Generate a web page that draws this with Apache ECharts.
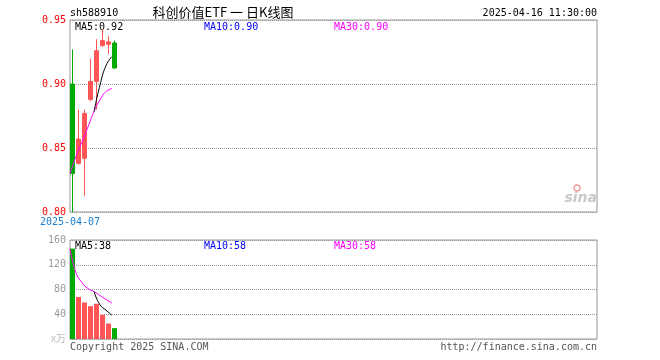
<!DOCTYPE html>
<html><head><meta charset="utf-8">
<script src="https://cdn.jsdelivr.net/npm/echarts@6/dist/echarts.min.js"></script>
<style>html,body{margin:0;padding:0;background:#fff}#c{width:660px;height:360px}</style>
</head><body><div id="c"></div>
<script>
// ---- data ----
const dates   = ['2025-04-07','2025-04-08','2025-04-09','2025-04-10','2025-04-11','2025-04-14','2025-04-15','2025-04-16'];
const opens   = [0.900, 0.838, 0.842, 0.888, 0.902, 0.930, 0.931, 0.932];
const closes  = [0.830, 0.857, 0.877, 0.902, 0.926, 0.934, 0.933, 0.9125];
const lows    = [0.800, 0.837, 0.8125, 0.8865, 0.880, 0.929, 0.9235, 0.912];
const highs   = [0.927, 0.880, 0.880, 0.920, 0.935, 0.943, 0.9375, 0.934];
const volumes = [146, 68, 59, 53, 57, 39, 25, 17.5]; // 万
const priceTicks = [0.80, 0.85, 0.90, 0.95];
const volTicks   = [0, 40, 80, 120, 160];
const symbolCode = 'sh588910';
const titleText  = '科创价值ETF 一 日K线图';
const timeText   = '2025-04-16 11:30:00';

// ---- layout ----
const SLOTS = 88, SLOT_PX = 6;
const L = 70, W = 527;
const MONO = 'DejaVu Sans Mono';
const RED = '#ff5555', GREEN = '#00aa00';
const panels = [{ top: 20, height: 192 }, { top: 240, height: 99 }];

const cats = dates.concat(new Array(SLOTS - dates.length).fill(''));
function ma(vals, n, minCount) {
  return vals.map((_, i) => {
    const c = Math.min(n, i + 1);
    if (c < minCount) return '-';
    let s = 0; for (let k = i - c + 1; k <= i; k++) s += vals[k];
    return s / c;
  });
}
const kData = dates.map((_, i) => [opens[i], closes[i], lows[i], highs[i]]);
const up = dates.map((_, i) => closes[i] >= opens[i]);
// lines: MA5/MA10 drawn only once enough days exist; MA30 drawn as running mean
const pMA5 = ma(closes, 5, 5), pMA10 = ma(closes, 10, 10), pMA30 = ma(closes, 30, 1);
const vMA5 = ma(volumes, 5, 5), vMA10 = ma(volumes, 10, 10), vMA30 = ma(volumes, 30, 1);
// legend values use the running means
const last = a => a[a.length - 1];
const pLeg = [ma(closes, 5, 1), ma(closes, 10, 1), ma(closes, 30, 1)].map(last);
const vLeg = [ma(volumes, 5, 1), ma(volumes, 10, 1), ma(volumes, 30, 1)].map(last);
const step = (t) => Math.round((t[1] - t[0]) * 1e6) / 1e6;

// per panel: grid 0 = border/labels, grid 1 = candles/bars (pixel aligned), grid 2 = MA lines
const grids = [], xAxes = [], yAxes = [];
const dotted = { show: true, lineStyle: { color: '#999', type: [1, 1], width: 1 } };
panels.forEach((p, pi) => {
  const ticks = pi === 0 ? priceTicks : volTicks;
  const defs = [
    { left: L, width: W, show: true, gap: true },
    { left: L - 0.5, width: SLOTS * SLOT_PX, show: false, gap: true },
    { left: L, width: (SLOTS - 1) * SLOT_PX, show: false, gap: false }
  ];
  defs.forEach((d, k) => {
    const gi = grids.length;
    grids.push({ left: d.left, top: p.top, width: d.width, height: p.height, show: d.show, borderColor: '#999', borderWidth: 1 });
    const showDate = pi === 0 && k === 2;
    xAxes.push({ type: 'category', gridIndex: gi, data: cats, boundaryGap: d.gap, position: 'bottom',
      axisLine: { show: false }, axisTick: { show: false }, splitLine: { show: false },
      axisLabel: showDate ? { show: true, interval: (i) => i === 0, color: '#1a7fd0', fontFamily: MONO, fontSize: 10, margin: 5, align: 'center' } : { show: false } });
    const y = { type: 'value', gridIndex: gi, min: ticks[0], max: last(ticks), interval: step(ticks),
      axisLine: { show: false }, axisTick: { show: false }, axisLabel: { show: false }, splitLine: { show: false } };
    if (k === 0) {
      y.splitLine = dotted;
      y.axisLabel = pi === 0
        ? { color: '#ff0000', fontFamily: MONO, fontSize: 10, margin: 4, formatter: v => v.toFixed(2) }
        : { color: '#999', fontFamily: MONO, fontSize: 10, margin: 4,
            formatter: v => v === 0 ? '{u|x万}' : String(v),
            rich: { u: { color: '#bbb', fontSize: 10, fontFamily: 'Noto Sans CJK SC', padding: [0, 0, 2, 0] } } };
    }
    yAxes.push(y);
  });
});

const chart = echarts.init(document.getElementById('c'));
const line = (c, ax, data) => ({ type: 'line', xAxisIndex: ax, yAxisIndex: ax, data, showSymbol: false, symbol: 'none', smooth: true, lineStyle: { width: 1, color: c }, silent: true });
const txt = (x, y, text, fill, extra) => ({ type: 'text', x, y, silent: true, style: Object.assign({ text, fill, font: '10px ' + MONO, verticalAlign: 'middle' }, extra || {}) });

chart.setOption({
  animation: false,
  backgroundColor: '#fff',
  grid: grids, xAxis: xAxes, yAxis: yAxes,
  series: [
    { type: 'candlestick', xAxisIndex: 1, yAxisIndex: 1, data: kData, barWidth: 4,
      itemStyle: { color: RED, color0: GREEN, borderColor: RED, borderColor0: GREEN, borderWidth: 1 } },
    line('#0000ff', 2, pMA10), line('#ff00ff', 2, pMA30), line('#000000', 2, pMA5),
    { type: 'bar', xAxisIndex: 4, yAxisIndex: 4, barWidth: 5,
      data: volumes.map((v, i) => ({ value: v, itemStyle: { color: up[i] ? RED : GREEN } })) },
    line('#0000ff', 5, vMA10), line('#ff00ff', 5, vMA30), line('#000000', 5, vMA5)
  ],
  graphic: [
    txt(L, 13, symbolCode, '#000'),
    { type: 'text', x: 223, y: 12, silent: true, style: { text: titleText, fill: '#000', font: '13px "Noto Sans CJK SC"', align: 'center', verticalAlign: 'middle' } },
    txt(L + W, 13, timeText, '#000', { align: 'right' }),
    txt(L + 5, 27, 'MA5:' + pLeg[0].toFixed(2), '#000'),
    txt(L + 134, 27, 'MA10:' + pLeg[1].toFixed(2), '#0000ff'),
    txt(L + 264, 27, 'MA30:' + pLeg[2].toFixed(2), '#ff00ff'),
    txt(L + 5, 246, 'MA5:' + Math.round(vLeg[0]), '#000'),
    txt(L + 134, 246, 'MA10:' + Math.round(vLeg[1]), '#0000ff'),
    txt(L + 264, 246, 'MA30:' + Math.round(vLeg[2]), '#ff00ff'),
    txt(L, 347, 'Copyright 2025 SINA.COM', '#555'),
    txt(L + W, 347, 'http://finance.sina.com.cn', '#555', { align: 'right' }),
    { type: 'text', x: L + W, y: 198, silent: true, style: { text: 'sina', fill: '#c8c8c8', font: 'italic bold 14px "DejaVu Sans"', align: 'right', verticalAlign: 'middle' } },
    { type: 'circle', silent: true, shape: { cx: 577, cy: 188, r: 3 }, style: { fill: 'none', stroke: '#f4a0a0', lineWidth: 1.5 } }
  ]
});
</script>
</body></html>
